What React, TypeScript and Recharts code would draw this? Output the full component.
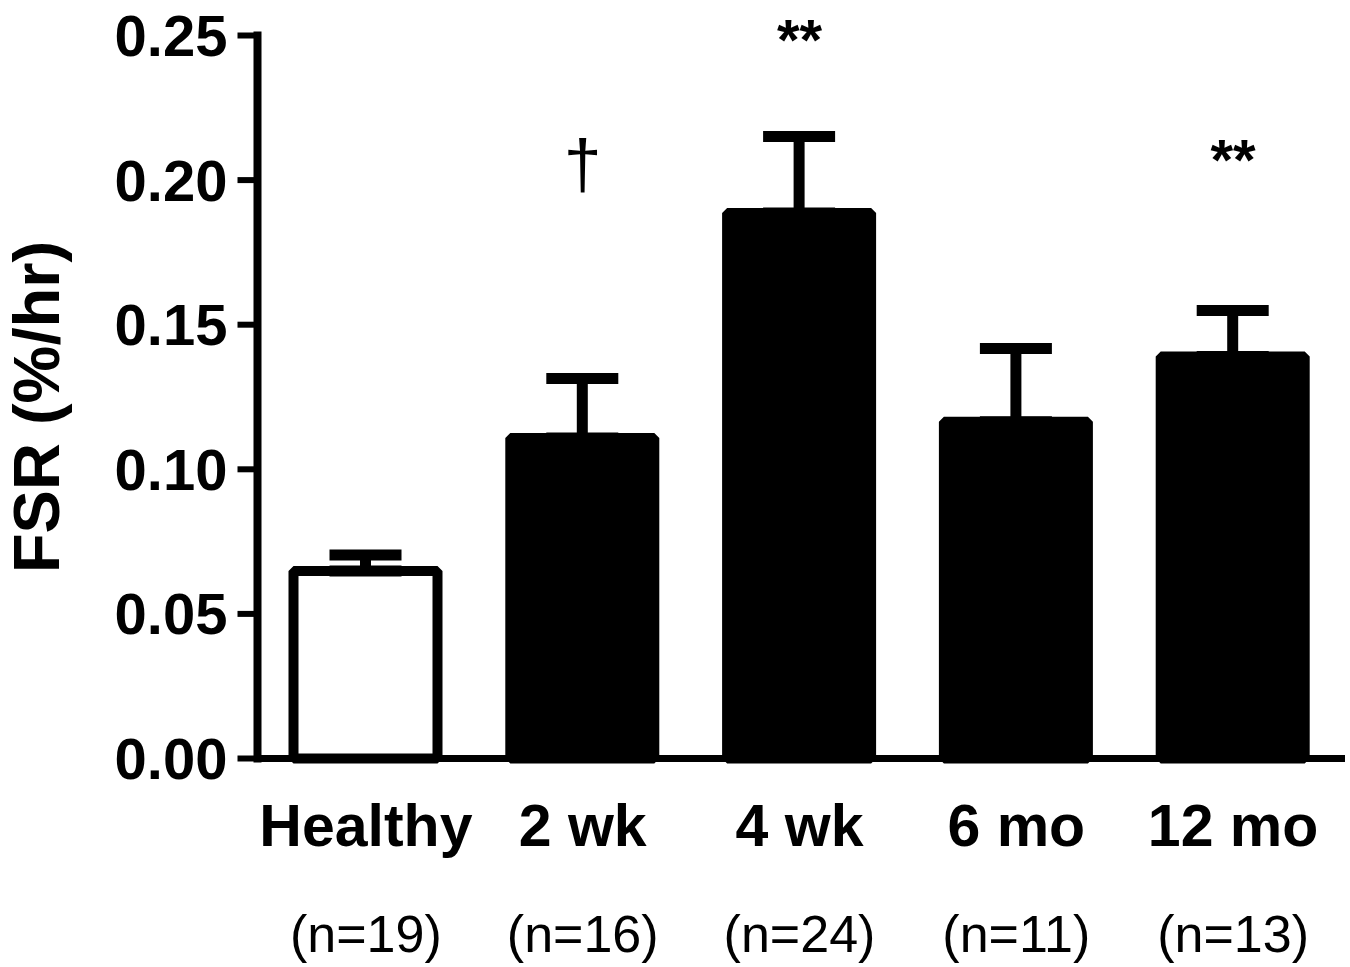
import React from 'react';
import { ComposedChart, Bar, XAxis, YAxis, ErrorBar, Cell, Scatter } from 'recharts';

const categories = ['Healthy', '2 wk', '4 wk', '6 mo', '12 mo'];
const nLabels = ['(n=19)', '(n=16)', '(n=24)', '(n=11)', '(n=13)'];
const meanValues = [0.0648, 0.1108, 0.1886, 0.1164, 0.139];
const semValues = [0.0056, 0.0206, 0.0265, 0.0254, 0.0159];
const barFills = ['#ffffff', '#000000', '#000000', '#000000', '#000000'];
const markTexts = [null, '†', '**', null, '**'];
const markValues = [null, 0.1974, 0.2415, null, 0.2];
const yTicks = [0, 0.05, 0.1, 0.15, 0.2, 0.25];

const FONT = '"Liberation Sans", Arial, Helvetica, sans-serif';

const data = categories.map((name, i) => ({
  name,
  n: nLabels[i],
  mean: meanValues[i],
  err: [0, semValues[i]],
  mark: markTexts[i],
  markY: markValues[i],
}));

const XTick = (props: any) => {
  const { x, y, payload, index } = props;
  return (
    <g>
      <text x={x} y={y + 87} textAnchor="middle" fontFamily={FONT} fontWeight="bold" fontSize={59} fill="#000">
        {payload.value}
      </text>
      <text x={x} y={y + 193} textAnchor="middle" fontFamily={FONT} fontSize={52} fill="#000">
        {nLabels[index]}
      </text>
    </g>
  );
};

const MarkShape = (props: any) => {
  const { cx, cy, payload } = props;
  if (!payload || !payload.mark || cx == null || cy == null || isNaN(cx) || isNaN(cy)) return null;
  const isDagger = payload.mark === '†';
  return (
    <text
      x={cx}
      y={cy}
      textAnchor="middle"
      fontFamily={FONT}
      fontWeight={isDagger ? 'normal' : 'bold'}
      fontSize={isDagger ? 68 : 58}
      fill="#000"
    >
      {payload.mark}
    </text>
  );
};

const YLabel = () => (
  <text
    x={59}
    y={407}
    transform="rotate(-90, 59, 407)"
    textAnchor="middle"
    fontFamily={FONT}
    fontWeight="bold"
    fontSize={65}
    fill="#000"
  >
    FSR (%/hr)
  </text>
);

export default function App() {
  return (
    <div style={{ position: 'absolute', left: 0, top: 0, background: '#fff' }}>
      <ComposedChart
        width={1350}
        height={967}
        data={data}
        margin={{ top: 35.5, right: 8.5, bottom: 8.5, left: 0 }}
        barCategoryGap={0}
      >
        <XAxis
          dataKey="name"
          type="category"
          height={200}
          tickLine={false}
          tickSize={0}
          tickMargin={0}
          axisLine={{ stroke: '#000', strokeWidth: 7, strokeLinecap: 'square' }}
          tick={<XTick />}
          interval={0}
        />
        <YAxis
          type="number"
          domain={[0, 0.25]}
          ticks={yTicks}
          width={257.5}
          tickSize={20}
          tickMargin={10}
          tickLine={{ stroke: '#000', strokeWidth: 6 }}
          axisLine={{ stroke: '#000', strokeWidth: 8, strokeLinecap: 'square' }}
          tickFormatter={(v: number) => v.toFixed(2)}
          tick={{ fontFamily: FONT, fontWeight: 'bold', fontSize: 58, fill: '#000' }}
          label={{ content: () => <YLabel /> }}
        />
        <Bar
          dataKey="mean"
          barSize={144}
          stroke="#000"
          strokeWidth={10}
          strokeLinejoin="bevel"
          isAnimationActive={false}
        >
          {data.map((d, i) => (
            <Cell key={d.name} fill={barFills[i]} stroke="#000" strokeWidth={10} strokeLinejoin="bevel" />
          ))}
          <ErrorBar dataKey="err" width={36} stroke="#000" strokeWidth={11} direction="y" isAnimationActive={false} />
        </Bar>
        <Scatter dataKey="markY" shape={<MarkShape />} isAnimationActive={false} />
      </ComposedChart>
    </div>
  );
}
